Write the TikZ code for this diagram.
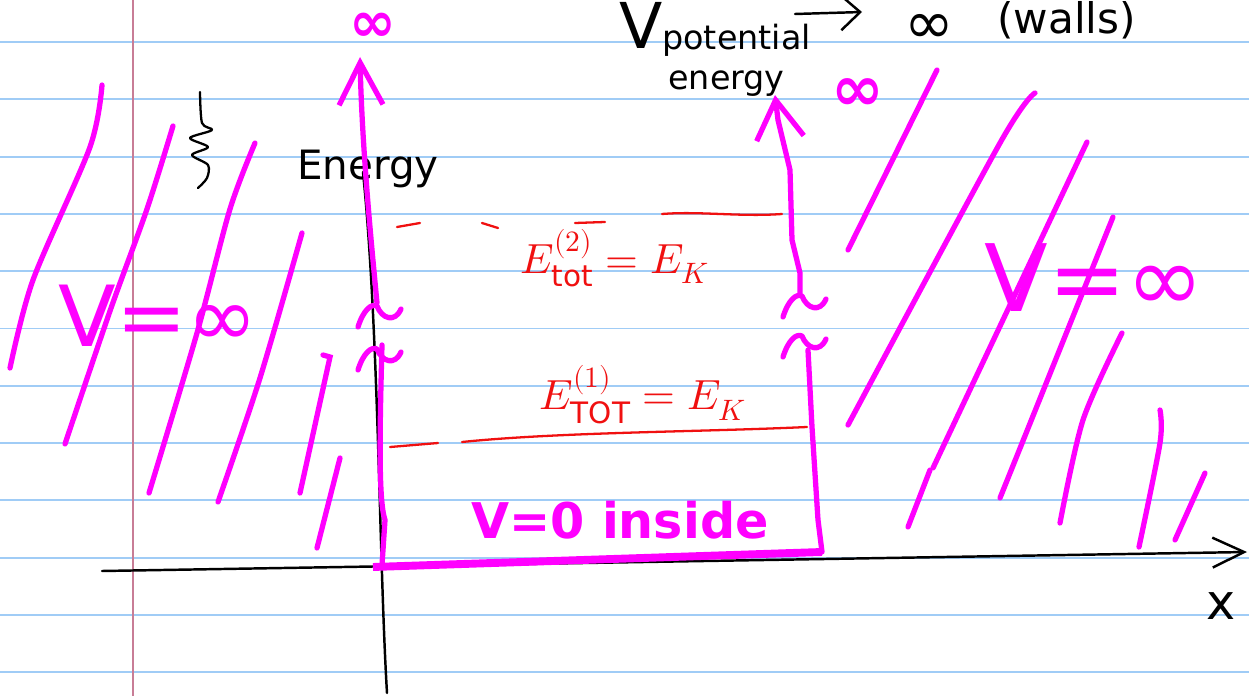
\documentclass[tikz,border=0pt]{standalone}
\usepackage{fontspec}
\setmainfont{DejaVu Sans}
\usepackage{unicode-math}
\setmathfont{Latin Modern Math}
\usetikzlibrary{arrows.meta}
\definecolor{pen}{RGB}{255,0,255}
\definecolor{redpen}{RGB}{240,16,16}
\definecolor{rulecol}{RGB}{160,204,246}
\definecolor{margincol}{RGB}{200,125,150}
\begin{document}
\begin{tikzpicture}[x=0.02cm,y=-0.02cm,
  ruleline/.style={draw=rulecol,line width=1.1pt},
  ink/.style={draw=black,line width=1.4pt,line cap=round,line join=round},
  wall/.style={draw=pen,line width=3pt,line cap=round,line join=round},
  hatch/.style={draw=pen,line width=3pt,line cap=round},
  elevel/.style={draw=redpen,line width=1.3pt,line cap=round},
  pinklbl/.style={text=pen,inner sep=0pt},
  brk/.pic={\draw[wall] (-21,12) .. controls (-16,-4) and (-8,-12) .. (-2,-9) .. controls (3,4) and (16,8) .. (22,-6);}]
  % page 1249x696 px, 1px = 0.02cm
  \def\RS{57.3}
  \useasboundingbox (0,0) rectangle (1249,696);
  \clip (0,0) rectangle (1249,696);
  \fill[white] (0,0) rectangle (1249,696);
  % ruled paper + margin
  \foreach \k in {0,...,11}
    \draw[ruleline] (0,{42+\RS*\k}) -- (1249,{42+\RS*\k});
  \draw[margincol,line width=1.1pt] (133,0) -- (133,696);
  % axes
  \coordinate (ytop) at (363,172);
  \coordinate (ybot) at (387,693);
  \coordinate (xl) at (102,571);
  \coordinate (xr) at (1247,552);
  \draw[ink] (ytop) .. controls (379,330) and (379,560) .. (ybot);
  \draw[ink,-{Straight Barb[length=18pt,width=17pt]}] (xl) -- (xr);
  \node[font=\fontsize{23}{26}\selectfont,anchor=base west,inner sep=0pt] (energy) at (297,180) {Energy};
  \node[font=\fontsize{28}{30}\selectfont] (xlbl) at (1221,606) {x};
  \draw[ink,line width=1.3pt] plot[smooth] coordinates {(200,92) (202,123) (212,130) (190,138) (208,147) (192,155) (208,165) (207,178) (198,188)};
  % top note: V potential energy -> infinity (walls)
  \node[font=\fontsize{36}{40}\selectfont,anchor=base,inner sep=0pt] (vpot) at (641,49) {V};
  \node[font=\fontsize{19}{22}\selectfont,anchor=base west,inner sep=0pt] (pot) at (662,50) {potential};
  \node[font=\fontsize{19}{22}\selectfont,anchor=base west,inner sep=0pt] (ener) at (668,90) {energy};
  \node[font=\fontsize{34}{38}\selectfont,inner sep=0pt] (infblk) at (929,29) {∞};
  \node[font=\fontsize{24}{28}\selectfont,anchor=base west,inner sep=0pt] (walls) at (997,34) {(walls)};
  \coordinate (arrs) at (795,14);
  \coordinate (arre) at (862,12);
  \draw[ink,-{Straight Barb[length=11pt,width=20pt]}] (arrs) -- (arre);
  % left wall
  \coordinate (Ltip) at (360,57);
  \coordinate (Lbrk) at (377,303);
  \coordinate (Lbrk2) at (382,345);
  \coordinate (Lfoot) at (382,565);
  \draw[wall,{Straight Barb[length=24pt,width=25pt]}-] (Ltip) .. controls (362,150) and (372,250) .. (Lbrk);
  \draw[wall] (Lbrk2) .. controls (380,420) and (378,500) .. (385,520) -- (Lfoot);
  \pic at (379,315) {brk};
  \pic at (379,358) {brk};
  \node[pinklbl,font=\bfseries\fontsize{32}{34}\selectfont] (infL) at (373,27) {∞};
  % right wall
  \coordinate (Rtip) at (775,95);
  \coordinate (Rbrk) at (800,293);
  \coordinate (Rbrk2) at (808,350);
  \coordinate (Rfoot) at (822,552);
  \draw[wall,{Straight Barb[length=22pt,width=27pt]}-] (Rtip) -- (778,120) -- (790,170) -- (792,240) -- (800,273) -- (Rbrk);
  \draw[wall] (Rbrk2) -- (812,427) -- (818,520) -- (Rfoot);
  \pic at (804,305) {brk};
  \pic at (804,345) {brk};
  \node[pinklbl,font=\bfseries\fontsize{36}{38}\selectfont] (infR) at (858,95) {∞};
  % floor, V=0
  \draw[pen,line width=4.5pt] (Lfoot) ++(-9,2) -- (Rfoot);
  \node[pinklbl,font=\bfseries\fontsize{28}{32}\selectfont,anchor=base] (vzero) at (620,538) {V=0 inside};
  % hatching left (V = infinity)
  \draw[hatch] plot[smooth] coordinates {(102,85) (90,147) (33,280) (10,368)};
  \draw[hatch] plot[smooth] coordinates {(173,126) (147,209) (110,311) (65,444)};
  \draw[hatch] plot[smooth] coordinates {(255,143) (230,209) (197,333) (149,493)};
  \draw[hatch] plot[smooth] coordinates {(302,233) (260,378) (218,502)};
  \draw[hatch] (323,355) -- (330,357) -- (300,493);
  \draw[hatch] (340,458) -- (317,548);
  \node[pinklbl,font=\fontsize{48}{52}\selectfont] (vinfL) at (158,316) {V=∞};
  % hatching right
  \draw[hatch] (937,70) -- (848,250);
  \draw[hatch] plot[smooth] coordinates {(1035,93) (1000,143) (848,425)};
  \draw[hatch] (1087,142) -- (933,468);
  \draw[hatch] (930,470) -- (908,527);
  \draw[hatch] (1113,217) -- (1000,498);
  \draw[hatch] plot[smooth] coordinates {(1122,333) (1083,420) (1060,523)};
  \draw[hatch] plot[smooth] coordinates {(1160,410) (1160,443) (1139,547)};
  \draw[hatch] (1205,473) -- (1175,540);
  \node[pinklbl,font=\fontsize{53}{56}\selectfont] (vinfR) at (1094,278) {V=∞};
  % energy levels
  \node[text=redpen,font=\fontsize{24}{28}\selectfont] (etot2) at (615,258) {$E_{\mathrm{tot}}^{(2)} = E_K$};
  \node[text=redpen,font=\fontsize{24}{28}\selectfont] (etot1) at (643,395) {$E_{\mathrm{TOT}}^{(1)} = E_K$};
  \draw[elevel] (397,227) -- (420,223);
  \draw[elevel] (482,223) -- (498,228);
  \draw[elevel] (575,223) -- (605,222);
  \draw[elevel] (662,214) .. controls (700,211) and (740,217) .. (782,214);
  \draw[elevel] (390,447) -- (438,443);
  \draw[elevel] (462,442) .. controls (560,432) and (700,432) .. (807,427);
\end{tikzpicture}
\end{document}
